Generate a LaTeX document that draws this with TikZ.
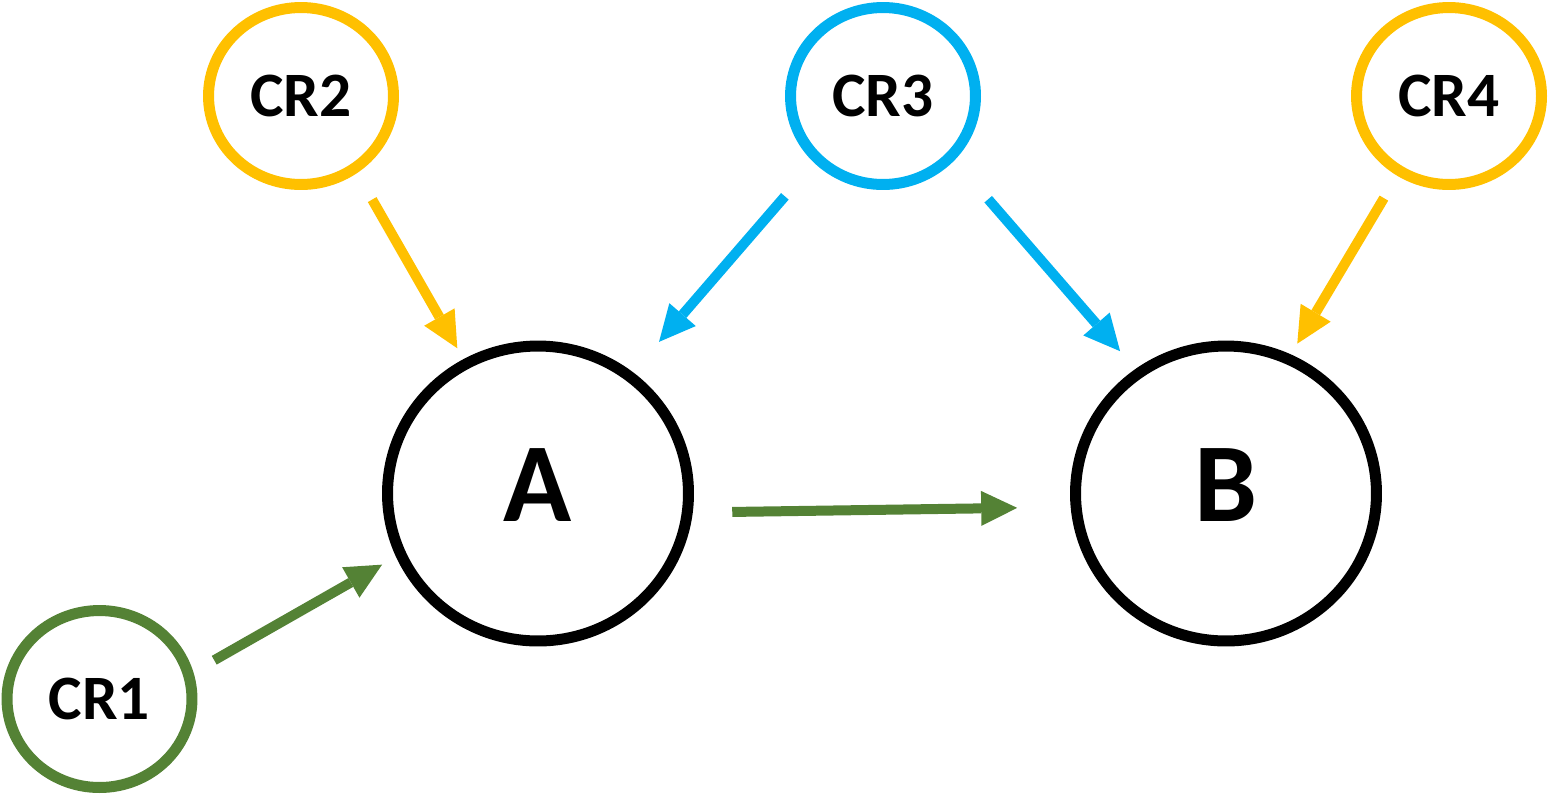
\documentclass[tikz,border=0pt]{standalone}
\usepackage{fontspec}
\setmainfont{Carlito}
\usepackage{xcolor}
\usepackage{tikz}
\usetikzlibrary{shapes,arrows,arrows.meta}
\usetikzlibrary{positioning}
\definecolor{crgreen}{HTML}{548235}
\definecolor{cryellow}{HTML}{FFC000}
\definecolor{crblue}{HTML}{00B0F0}
\tikzstyle{cause} = [ellipse, draw, line width=0.22cm, inner sep=0pt,
    minimum width=3.7cm, minimum height=3.54cm, font=\fontsize{36}{42}\selectfont\bfseries]
\tikzstyle{effect} = [ellipse, draw=black, line width=0.22cm, inner sep=0pt, text depth=0.32cm,
    minimum width=6.02cm, minimum height=5.9cm, font=\fontsize{64}{76}\selectfont\bfseries]
\tikzstyle{line} = [draw, line width=0.2cm, -{Triangle[length=0.72cm,width=0.7cm,line width=0pt]}]

\begin{document}
\begin{tikzpicture}[x=0.02cm,y=-0.02cm,auto]
    \useasboundingbox (0,0) rectangle (1550,796);
    % Place nodes
    \node [effect] (a) at (538,493.5) {A};
    \node [effect] (b) at (1226,493.5) {B};
    \node [cause, draw=crgreen] (cr1) at (99.5,699) {CR1};
    \node [cause, draw=cryellow] (cr2) at (301,96) {CR2};
    \node [cause, draw=crblue] (cr3) at (883,96) {CR3};
    \node [cause, draw=cryellow] (cr4) at (1449,96) {CR4};
    % Draw edges
    \path [line, crgreen, shorten <=0.48cm, shorten >=0.32cm] (cr1.16) -- (a.204);
    \path [line, cryellow, shorten <=0.61cm, shorten >=0.25cm] (cr2.306) -- (a.119);
    \path [line, crblue, shorten <=0.89cm, shorten >=0.8cm] (cr3.224) -- (a.52);
    \path [line, crblue, shorten <=1.03cm, shorten >=0.47cm] (cr3.318) -- (b.126);
    \path [line, cryellow, shorten <=0.52cm, shorten >=0.25cm] (cr4.237) -- (b.65);
    \path [line, crgreen, shorten <=0.79cm, shorten >=1.07cm] (a.353) -- (b.185);
\end{tikzpicture}
\end{document}
